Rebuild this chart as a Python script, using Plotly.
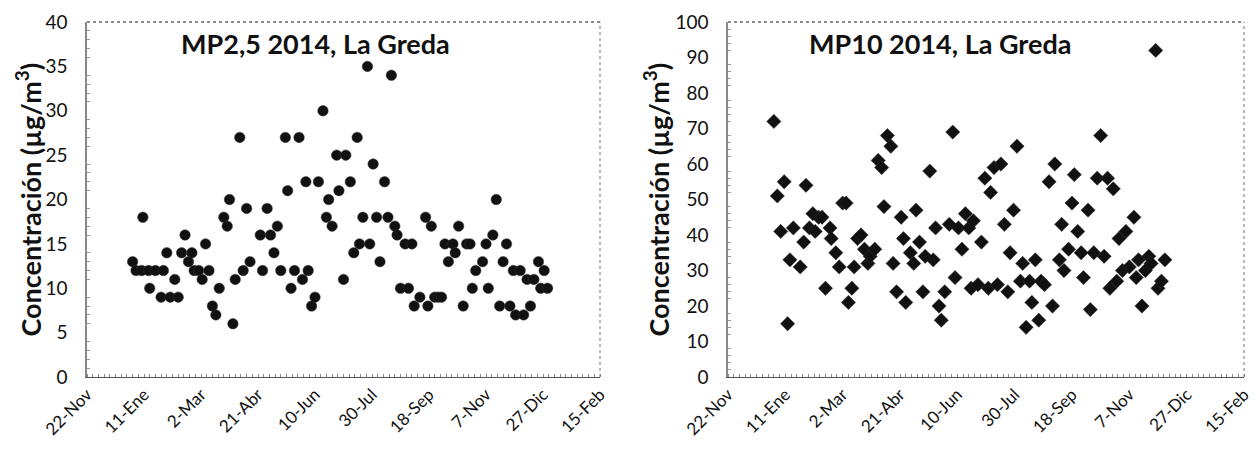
import datetime as dt
import plotly.graph_objects as go

# ---------------- data (day of year 2014, Jan 1 = 0) ----------------
pm25_doy = [0, 3, 8, 9, 14, 15, 20, 25, 27, 30, 33, 37, 40, 43, 46, 49, 52, 54, 58, 61,
            64, 67, 70, 73, 76, 80, 83, 85, 88, 90, 94, 97, 100, 103, 112, 114, 118, 121,
            124, 127, 130, 134, 136, 139, 142, 146, 149, 152, 154, 157, 160, 163, 167, 170,
            172, 175, 179, 181, 185, 187, 191, 194, 197, 199, 202, 206, 208, 211, 214, 217,
            221, 224, 227, 230, 232, 235, 239, 242, 245, 247, 252, 257, 259, 262, 265, 268,
            271, 274, 277, 281, 283, 286, 290, 293, 296, 298, 301, 307, 310, 312, 316, 319,
            322, 325, 328, 331, 334, 336, 340, 343, 346, 349, 352, 356, 358, 361, 364]
pm25_val = [13, 12, 12, 18, 12, 10, 12, 9, 12, 14, 9, 11, 9, 14, 16, 13, 14, 12, 12, 11,
            15, 12, 8, 7, 10, 18, 17, 20, 6, 11, 27, 12, 19, 13, 16, 12, 19, 16,
            14, 17, 12, 27, 21, 10, 12, 27, 11, 22, 12, 8, 9, 22, 30, 18,
            20, 17, 25, 21, 11, 25, 22, 14, 27, 15, 18, 35, 15, 24, 18, 13,
            22, 18, 34, 17, 16, 10, 15, 10, 15, 8, 9, 18, 8, 17, 9, 9,
            9, 15, 13, 15, 14, 17, 8, 15, 15, 10, 12, 13, 15, 10, 16, 20,
            8, 13, 15, 8, 12, 7, 12, 7, 11, 8, 11, 13, 10, 12, 10]

pm10_doy = [0, 3, 6, 9, 12, 14, 17, 23, 26, 28, 31, 34, 36, 39, 42, 45, 49, 50, 54, 57,
            60, 63, 65, 68, 70, 73, 76, 79, 82, 84, 88, 91, 94, 96, 99, 102, 104, 107,
            111, 113, 115, 119, 122, 124, 127, 130, 132, 136, 139, 141, 144, 146, 149, 153,
            156, 158, 161, 164, 167, 170, 172, 174, 178, 181, 184, 187, 189, 192, 195, 198,
            201, 204, 206, 209, 212, 215, 217, 220, 223, 225, 228, 231, 233, 236, 240, 243,
            245, 249, 251, 253, 257, 260, 262, 265, 268, 270, 274, 276, 279, 282, 285, 288,
            291, 293, 296, 299, 301, 304, 307, 310, 314, 316, 318, 321, 324, 327, 329, 333,
            335, 338, 341]
pm10_val = [72, 51, 41, 55, 15, 33, 42, 31, 38, 54, 42, 46, 41, 45, 45, 25, 42, 39, 35, 31,
            49, 49, 21, 25, 31, 39, 40, 36, 32, 34, 36, 61, 59, 48, 68, 65, 32, 24,
            45, 39, 21, 35, 32, 47, 38, 24, 34, 58, 33, 42, 20, 16, 24, 43,
            69, 28, 42, 36, 46, 42, 25, 44, 26, 38, 56, 25, 52, 59, 26, 60,
            43, 24, 35, 47, 65, 27, 32, 14, 27, 21, 33, 16, 27, 26, 55, 20,
            60, 33, 43, 30, 36, 49, 57, 41, 35, 28, 47, 19, 35, 56, 68, 34,
            56, 25, 53, 27, 39, 30, 41, 31, 45, 28, 33, 20, 30, 34, 32, 92,
            25, 27, 33]

tick_labels = ["22-Nov", "11-Ene", "2-Mar", "21-Abr", "10-Jun", "30-Jul",
               "18-Sep", "7-Nov", "27-Dic", "15-Feb"]
titles = ["MP2,5 2014, La Greda", "MP10 2014, La Greda"]
y_title = "Concentración (µg/m<sup>3</sup>)"

# ---------------- helpers ----------------
base = dt.date(2014, 1, 1)
axis_start = dt.date(2013, 11, 22)
axis_end = dt.date(2015, 2, 15)
tick_vals = [axis_start + dt.timedelta(days=50 * i) for i in range(len(tick_labels))]


def to_dates(doys):
    return [base + dt.timedelta(days=d) for d in doys]


FONT = "Lato"
fig = go.Figure()

fig.add_trace(go.Scatter(
    x=to_dates(pm25_doy), y=pm25_val, mode="markers", xaxis="x", yaxis="y",
    marker=dict(symbol="circle", size=10.5, color="#111111",
                line=dict(width=0.5, color="#333333")),
    showlegend=False))
fig.add_trace(go.Scatter(
    x=to_dates(pm10_doy), y=pm10_val, mode="markers", xaxis="x2", yaxis="y2",
    marker=dict(symbol="diamond", size=11, color="#111111",
                line=dict(width=0.5, color="#333333")),
    showlegend=False))

W, H = 1256, 453
left_dom = [87 / W, 600 / W]
right_dom = [728 / W, 1244 / W]

xcommon = dict(type="date", range=[axis_start, axis_end], tickmode="array",
               tickvals=tick_vals, ticktext=tick_labels, tickangle=-45,
               tickfont=dict(family=FONT, size=17, color="#111"),
               showgrid=False, zeroline=False, showline=True, linecolor="#555",
               linewidth=1, ticks="", automargin=False,
               minor=dict(ticks="inside", ticklen=3, tickcolor="#888",
                          dtick=5 * 86400000, tick0=axis_start, showgrid=False))
ycommon = dict(showgrid=False, zeroline=False, showline=True, linecolor="#888",
               linewidth=1.5, ticks="", ticklabelstandoff=14, automargin=False,
               tickfont=dict(family=FONT, size=19, color="#111"))

fig.update_layout(
    width=W, height=H,
    margin=dict(l=0, r=0, t=22, b=76, autoexpand=False),
    paper_bgcolor="white", plot_bgcolor="white",
    xaxis=dict(domain=left_dom, anchor="y", **xcommon),
    yaxis=dict(domain=[0, 1], anchor="x", range=[0, 40], dtick=5,
               minor=dict(ticks="inside", ticklen=3, tickcolor="#999", dtick=1),
               **ycommon),
    xaxis2=dict(domain=right_dom, anchor="y2", **xcommon),
    yaxis2=dict(domain=[0, 1], anchor="x2", range=[0, 100], dtick=10,
                minor=dict(ticks="inside", ticklen=3, tickcolor="#999", dtick=2),
                **ycommon),
)

# top (dotted) and right borders of each plot area
for xr, yr in (("x", "y"), ("x2", "y2")):
    fig.add_shape(type="line", xref=f"{xr} domain", yref=f"{yr} domain",
                  x0=0, x1=1, y0=1, y1=1, line=dict(color="#666", width=1.5, dash="dot"))
    fig.add_shape(type="line", xref=f"{xr} domain", yref=f"{yr} domain",
                  x0=1, x1=1, y0=0, y1=1, line=dict(color="#777", width=1, dash="dot"))

# y-axis titles as rotated annotations (paper coordinates)
plot_h = H - 22 - 76
for xpix in (28, 656):
    fig.add_annotation(text="<b>" + y_title + "</b>", xref="paper", yref="paper",
                       x=xpix / W, y=0.5, textangle=-90, showarrow=False,
                       xanchor="center", yanchor="middle",
                       font=dict(family=FONT, size=27, color="#111"))

# chart titles inside the plot areas
fig.add_annotation(text="<b>" + titles[0] + "</b>", xref="x domain", yref="y domain",
                   x=(315 - 87) / 513, y=1 - (43 - 22) / plot_h, showarrow=False,
                   xanchor="center", yanchor="middle",
                   font=dict(family=FONT, size=27, color="#111"))
fig.add_annotation(text="<b>" + titles[1] + "</b>", xref="x2 domain", yref="y2 domain",
                   x=(940 - 728) / 516, y=1 - (43 - 22) / plot_h, showarrow=False,
                   xanchor="center", yanchor="middle",
                   font=dict(family=FONT, size=27, color="#111"))

fig.write_html("out.html",
               config={"displayModeBar": False},
               post_script="document.body.style.margin='0';"
                           "document.body.style.overflow='hidden';")
